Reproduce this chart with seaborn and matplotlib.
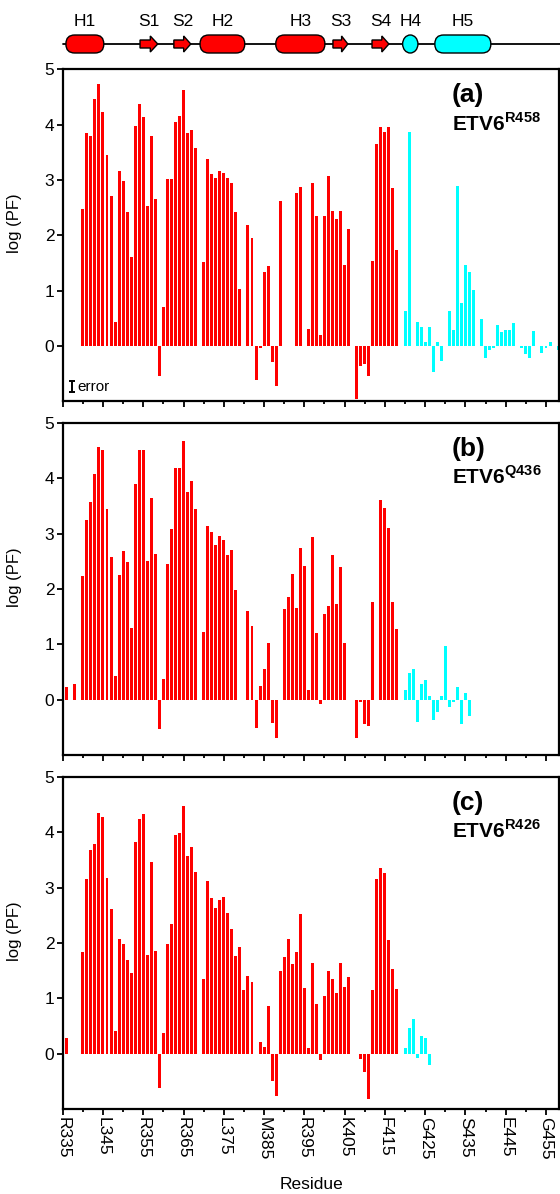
"""
Hydrogen-exchange protection factors for three ETV6 constructs,
with the secondary structure of the domain drawn on top.
"""

import matplotlib
matplotlib.use("Agg")
import matplotlib.pyplot as plt
from matplotlib.patches import Ellipse, FancyBboxPatch, Polygon
import numpy as np
import pandas as pd
import seaborn as sns

FIRST_RESIDUE = 336
TAIL_START = 420  # residues from here on are drawn cyan

# log(PF) per residue starting at FIRST_RESIDUE; None = no data
PF_R458 = [
    None, None, None, None,
    2.47, 3.84, 3.80, 4.47, 4.74, 4.23, 3.46, 2.71, 0.43, 3.17,
    2.98, 2.43, 1.61, 3.98, 4.37, 4.14, 2.53, 3.80, 2.65, -0.54,
    0.70, 3.02, 3.02, 4.04, 4.16, 4.63, 3.84, 3.91, 3.58, None,
    1.51, 3.37, 3.11, 3.03, 3.16, 3.13, 3.03, 2.95, 2.43, 1.03,
    None, 2.19, 1.95, -0.62, -0.04, 1.34, 1.45, -0.29, -0.73, 2.62,
    None, None, None, 2.77, 2.87, None, 0.30, 2.94, 2.35, 0.20,
    2.34, 3.07, 2.44, 2.29, 2.44, 1.46, 2.11, None, -0.95, -0.37,
    -0.33, -0.54, 1.53, 3.65, 3.95, 3.86, 3.95, 2.86, 1.74, None,
    0.64, 3.87, None, 0.44, 0.34, 0.07, 0.35, -0.47, 0.08, -0.27,
    None, 0.63, 0.28, 2.90, 0.77, 1.46, 1.34, 1.01, None, 0.49,
    -0.22, -0.08, -0.04, 0.38, 0.25, 0.28, 0.29, 0.42, None, -0.04,
    -0.14, -0.22, 0.27, None, -0.13, -0.04, 0.08, None, -0.07,
]
PF_Q436 = [
    0.22, None, 0.29, None,
    2.23, 3.24, 3.57, 4.08, 4.56, 4.52, 3.44, 2.57, 0.43, 2.25,
    2.68, 2.48, 1.30, 3.89, 4.52, 4.52, 2.50, 3.65, 2.63, -0.53,
    0.37, 2.45, 3.08, 4.19, 4.19, 4.67, 3.75, 3.96, 3.45, None,
    1.22, 3.14, 3.03, 2.79, 2.96, 2.88, 2.62, 2.70, 1.98, None,
    None, 1.60, 1.33, -0.52, 0.25, 0.56, 1.02, -0.42, -0.70, None,
    1.63, 1.85, 2.27, 1.65, 2.74, 2.41, 0.17, 2.94, 1.20, -0.08,
    1.54, 1.69, 2.62, 1.73, 2.39, 1.03, None, None, -0.70, -0.05,
    -0.44, -0.47, 1.76, None, 3.60, 3.46, 3.11, 1.76, 1.27, None,
    0.18, 0.48, 0.55, -0.40, 0.28, 0.35, 0.06, -0.36, -0.23, 0.07,
    0.97, -0.13, -0.05, 0.22, -0.44, 0.12, -0.30,
]
PF_R426 = [
    0.28, None, None, None,
    1.84, 3.15, 3.68, 3.79, 4.35, 4.28, 3.17, 2.61, 0.41, 2.07,
    1.99, 1.70, 1.45, 3.82, 4.24, 4.34, 1.78, 3.47, 1.86, -0.62,
    0.37, 1.99, 2.35, 3.96, 3.99, 4.47, 3.57, 3.74, 3.29, None,
    1.35, 3.12, 2.81, 2.64, 2.77, 2.83, 2.55, 2.25, 1.77, 1.93,
    1.15, 1.40, 1.29, None, 0.21, 0.12, 0.86, -0.50, -0.77, 1.49,
    1.74, 2.07, 1.62, 1.84, 2.52, 1.18, 0.11, 1.63, 0.89, -0.11,
    1.04, 1.49, 1.35, 1.10, 1.63, 1.20, 1.38, None, None, -0.10,
    -0.34, -0.82, 1.15, 3.16, 3.35, 3.26, 2.05, 1.53, 1.17, None,
    0.11, 0.46, 0.62, -0.08, 0.32, 0.28, -0.20,
]

PANEL_TAGS = ["(a)", "(b)", "(c)"]
CONSTRUCTS = ["R458", "Q436", "R426"]

TICK_RESIDUES = list(range(335, 456, 10))
TICK_LABELS = ["R335", "L345", "R355", "R365", "L375", "M385", "R395",
               "K405", "F415", "G425", "S435", "E445", "G455"]

# secondary structure elements (residue spans)
SS_NAMES = ["H1", "S1", "S2", "H2", "H3", "S3", "S4", "H4", "H5"]
SS_KIND = ["helix", "strand", "strand", "helix", "helix", "strand", "strand", "turn", "helix"]
SS_START = [335.8, 354.2, 362.6, 369.1, 387.9, 402.1, 411.8, 419.4, 427.4]
SS_END = [345.2, 358.6, 366.8, 380.2, 400.1, 405.8, 416.0, 423.2, 441.3]

ERROR_SIZE = 0.1

RED, CYAN = "#ff0000", "#00ffff"
XLIM = (335, 458.3)

sns.set_style("ticks")
plt.rcParams["font.family"] = ["Liberation Sans", "DejaVu Sans"]
plt.rcParams["mathtext.fontset"] = "custom"
plt.rcParams["mathtext.rm"] = "Liberation Sans"
plt.rcParams["mathtext.bf"] = "Liberation Sans:bold"
for key in ["text.color", "axes.labelcolor", "xtick.color", "ytick.color"]:
    plt.rcParams[key] = "black"

W, H = 560, 1194
fig = plt.figure(figsize=(W / 100, H / 100), dpi=100)
left, width = 62.7 / W, 496.6 / W
panel_h = 332
panel_tops = [69.3, 423, 777]

# ---- secondary structure strip ----
ax_ss = fig.add_axes([left, 1 - 60 / H, width, 60 / H])
ax_ss.set_xlim(*XLIM)
ax_ss.set_ylim(60, 0)
ax_ss.axis("off")
px = (XLIM[1] - XLIM[0]) / 496.6  # residues per pixel
ax_ss.plot([XLIM[0], XLIM[1] + 0.5], [44, 44], color="black", lw=1.3, clip_on=False, zorder=1)
for name, kind, s, e in zip(SS_NAMES, SS_KIND, SS_START, SS_END):
    col = CYAN if s >= TAIL_START - 1 else RED
    if kind == "helix":
        patch = FancyBboxPatch((s, 35), e - s, 18,
                               boxstyle=f"round,pad=0,rounding_size={8.8 * px:.3f}",
                               mutation_aspect=1 / px, fc=col, ec="black", lw=1.0, zorder=2)
    elif kind == "turn":
        patch = Ellipse(((s + e) / 2, 44), e - s, 18, fc=col, ec="black", lw=1.0, zorder=2)
    else:
        m = s + 0.58 * (e - s)
        patch = Polygon([(s, 40), (m, 40), (m, 36), (e, 44), (m, 52), (m, 48), (s, 48)],
                        closed=True, fc=col, ec="black", lw=1.0, zorder=2)
    ax_ss.add_patch(patch)
    ax_ss.text((s + e) / 2, 21, name, ha="center", va="center", fontsize=12.5)

# ---- protection factor panels ----
axes = []
for i, vals in enumerate([PF_R458, PF_Q436, PF_R426]):
    top = panel_tops[i]
    ax = fig.add_axes([left, 1 - (top + panel_h) / H, width, panel_h / H])
    axes.append(ax)
    res = np.arange(FIRST_RESIDUE, FIRST_RESIDUE + len(vals))
    df = pd.DataFrame({"residue": res, "logpf": pd.array(vals, dtype="Float64")}).dropna()
    df["logpf"] = df["logpf"].astype(float)
    df["segment"] = np.where(df["residue"] >= TAIL_START, "tail", "core")
    sns.barplot(data=df, x="residue", y="logpf", hue="segment",
                palette={"core": RED, "tail": CYAN}, native_scale=True, dodge=False,
                width=0.74, saturation=1, errorbar=None, legend=False, linewidth=0, ax=ax)

    ax.set_xlim(*XLIM)
    ax.set_ylim(-1, 5)
    ax.set_yticks(range(0, 6))
    ax.set_xticks(TICK_RESIDUES)
    ax.set_xticks(range(340, 458, 10), minor=True)
    for side in ["left", "right", "top", "bottom"]:
        ax.spines[side].set_visible(True)
        ax.spines[side].set_linewidth(1.6)
        ax.spines[side].set_color("black")
    ax.tick_params(axis="both", which="major", direction="out", length=4, width=1.3,
                   labelsize=12.5, pad=2, colors="black")
    ax.tick_params(axis="x", which="minor", direction="out", length=2.5, width=1.3)
    ax.set_ylabel("log (PF)", fontsize=12)
    ax.yaxis.set_label_coords(-0.082, 0.535)
    if i < 2:
        ax.set_xticklabels([])
        ax.set_xlabel("")
    else:
        ax.set_xticklabels(TICK_LABELS, rotation=270)
        ax.set_xlabel("Residue", fontsize=12.5)
        ax.xaxis.set_label_coords(0.5, -0.205)

    ax.text(0.784, 0.958, PANEL_TAGS[i], transform=ax.transAxes, fontsize=19,
            fontweight="bold", ha="left", va="top", color="black")
    ax.text(0.784, 0.816, r"$\mathbf{ETV6}^{\mathbf{" + CONSTRUCTS[i] + "}}$",
            transform=ax.transAxes, fontsize=15, ha="left", va="baseline", color="black")

# size of a typical error, drawn in the corner of panel (a)
axes[0].errorbar([337.3], [-0.74], yerr=ERROR_SIZE, fmt="none", ecolor="black",
                 elinewidth=1.4, capsize=2.5, capthick=1.4)
axes[0].text(338.6, -0.74, "error", fontsize=11, ha="left", va="center", color="black")

fig.savefig("out.png", dpi=100)
